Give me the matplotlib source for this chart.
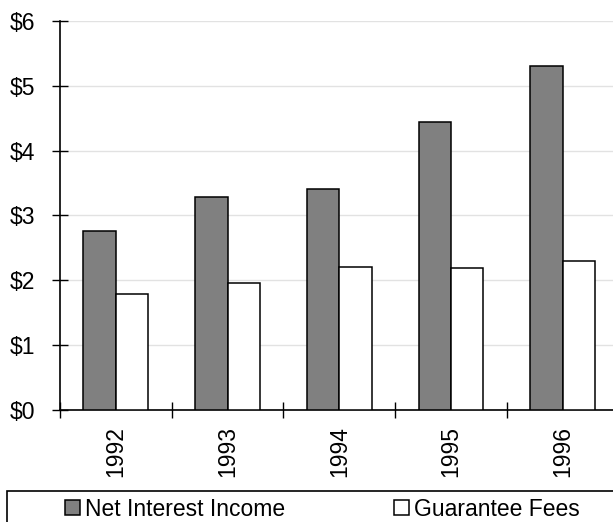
import matplotlib
matplotlib.use("Agg")
import matplotlib.pyplot as plt
import matplotlib.patches as mpatches
from matplotlib.ticker import FuncFormatter, FixedLocator, NullFormatter
import numpy as np

years = ["1992", "1993", "1994", "1995", "1996"]
net_interest_income = [2.76, 3.29, 3.40, 4.44, 5.31]
guarantee_fees = [1.78, 1.96, 2.21, 2.18, 2.29]
series_labels = ["Net Interest Income", "Guarantee Fees"]

plt.rcParams["font.family"] = ["Liberation Sans", "DejaVu Sans"]
FS = 16.5

W, H = 613, 522
fig = plt.figure(figsize=(W / 100, H / 100), dpi=100)
ax = fig.add_axes([60 / W, 1 - 409.7 / H, 553 / W, (409.7 - 21) / H])

x = np.arange(len(years))
bw = 0.29
b1 = ax.bar(x - bw, net_interest_income, width=bw, align="edge",
            color="#808080", edgecolor="black", linewidth=1.1, zorder=3,
            label=series_labels[0])
b2 = ax.bar(x, guarantee_fees, width=bw, align="edge",
            color="white", edgecolor="black", linewidth=1.1, zorder=3,
            label=series_labels[1])

ax.set_ylim(0, 6)
ax.set_xlim(-0.5, -0.5 + 553 / 111.7)
ax.set_yticks(np.arange(0, 7, 1))
ax.yaxis.set_major_formatter(FuncFormatter(lambda v, p: f"${v:.0f}"))
ax.grid(axis="y", color="#e2e2e2", linewidth=1.0, zorder=0)
ax.set_axisbelow(True)

# category boundaries carry the tick marks, centres carry the labels
ax.xaxis.set_major_locator(FixedLocator(np.arange(-0.5, len(years), 1.0)))
ax.xaxis.set_major_formatter(NullFormatter())
ax.xaxis.set_minor_locator(FixedLocator(x))
ax.set_xticklabels(years, minor=True, rotation=90, fontsize=FS)
ax.tick_params(axis="x", which="minor", length=0, pad=12)
ax.tick_params(axis="x", which="major", direction="inout", length=11.5,
               width=1.0, color="black")
ax.tick_params(axis="y", direction="inout", length=11.5, width=1.0,
               labelsize=FS, pad=12)

for s in ["top", "right"]:
    ax.spines[s].set_visible(False)
for s in ["left", "bottom"]:
    ax.spines[s].set_linewidth(1.2)
    ax.spines[s].set_color("black")

# legend frame running off the lower-right corner
frame = mpatches.Rectangle((7 / W, -0.2), 1.2, 0.2 + 1 - 490.7 / H,
                           transform=fig.transFigure, fill=False,
                           edgecolor="black", linewidth=1.2, clip_on=False)
fig.add_artist(frame)

fig.legend(handles=[b1, b2], labels=series_labels, loc="center left",
           bbox_to_anchor=(65 / W, 1 - 509 / H), ncol=2, frameon=False,
           fontsize=FS, handlelength=0.66, handleheight=0.66,
           handletextpad=0.22, columnspacing=4.75, borderpad=0,
           borderaxespad=0)

fig.savefig("out.png", dpi=100)
